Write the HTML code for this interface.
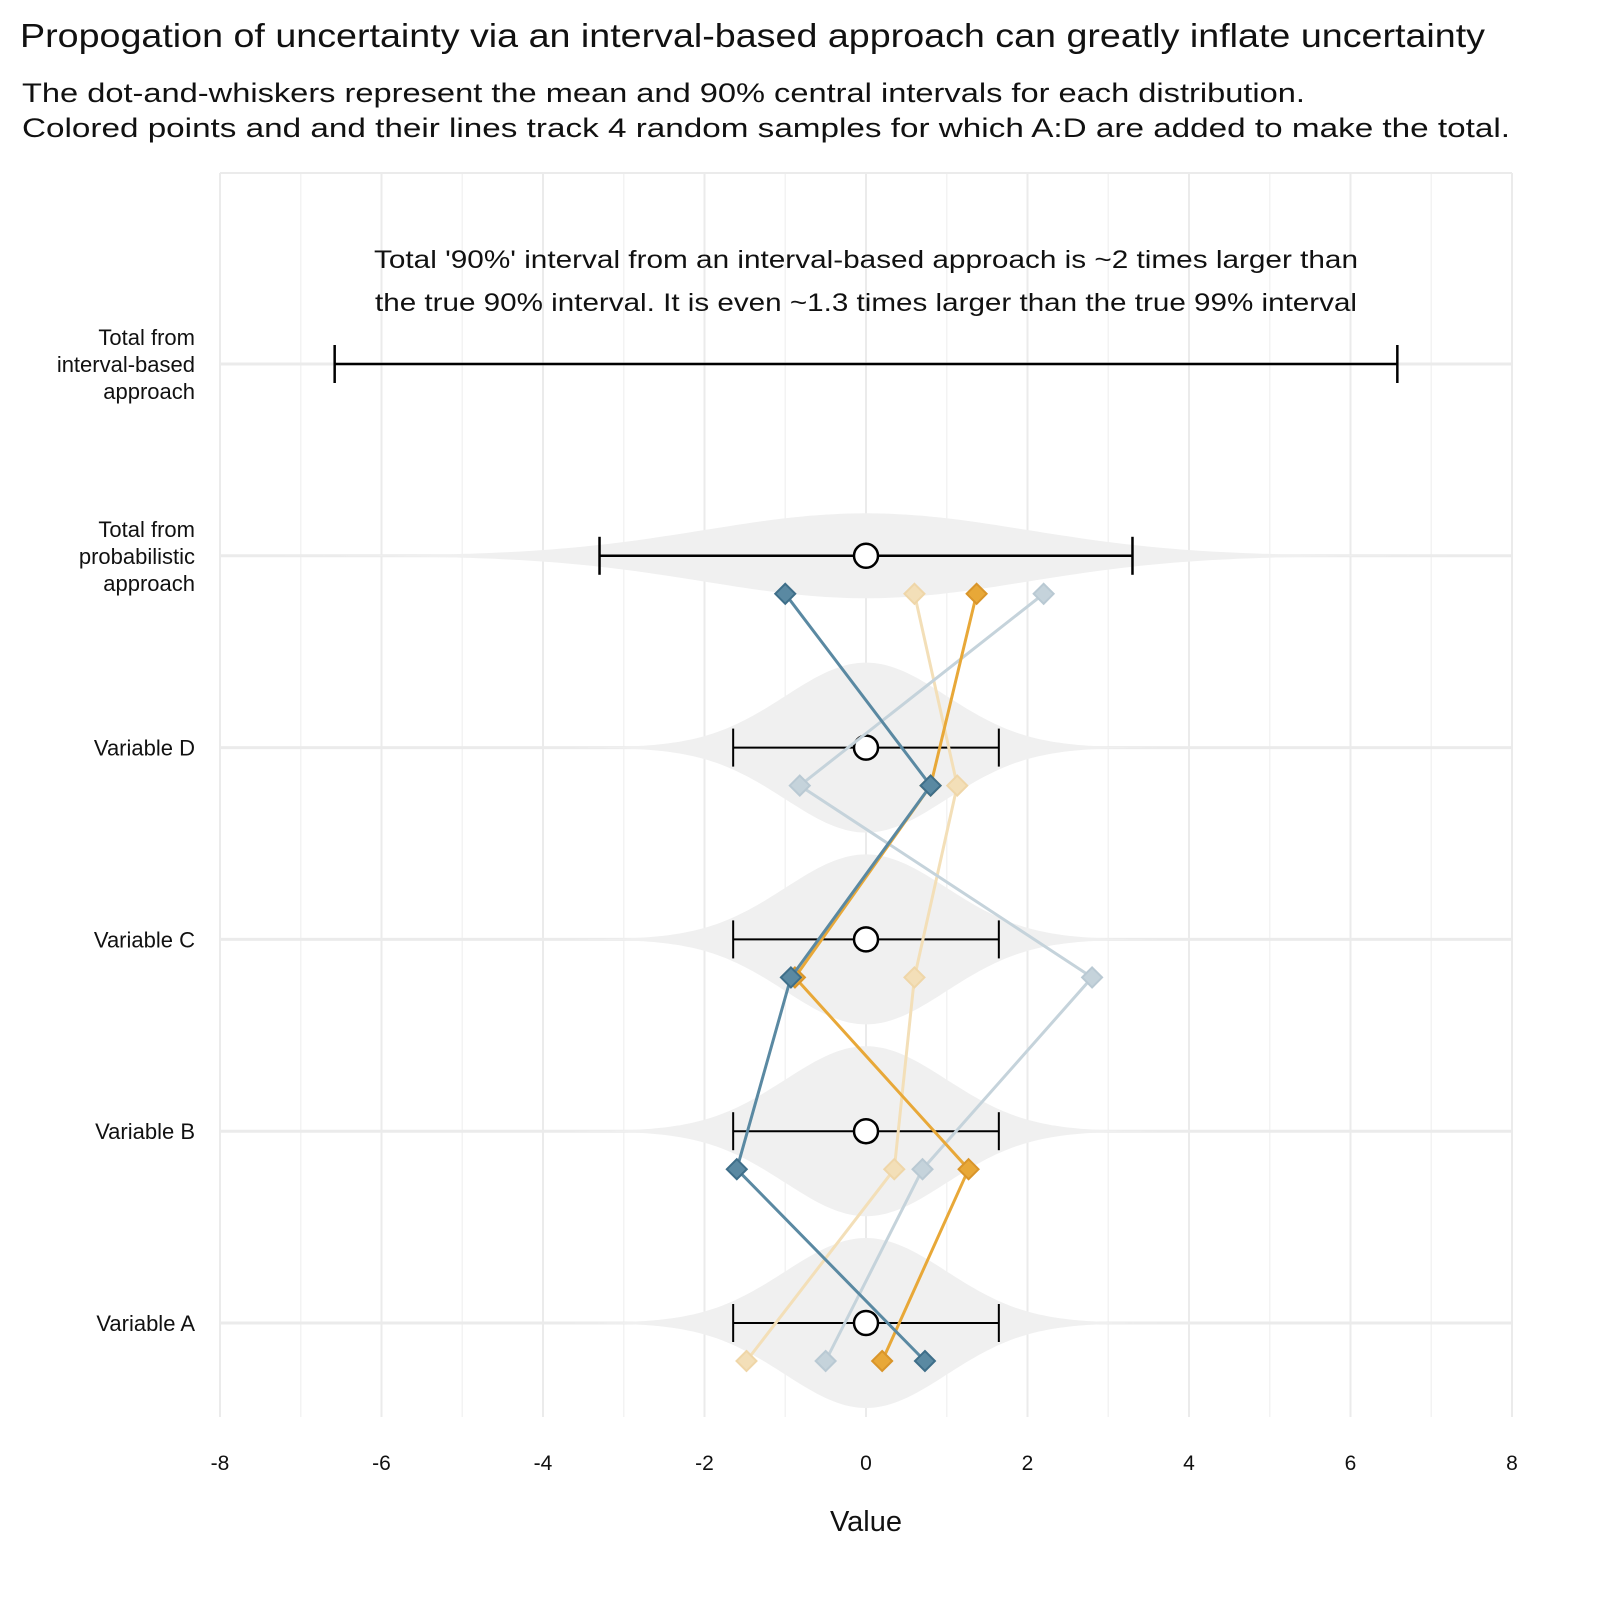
<!DOCTYPE html>
<html><head><meta charset="utf-8"><style>
body{margin:0;background:#fff}
svg text{font-family:"Liberation Sans",sans-serif}
</style></head><body>
<svg id="chart" width="1600" height="1600" viewBox="0 0 1600 1600">
<text x="20" y="47" font-size="33" fill="#111" textLength="1465" lengthAdjust="spacingAndGlyphs">Propogation of uncertainty via an interval-based approach can greatly inflate uncertainty</text>
<text x="22" y="102" font-size="27" fill="#111" textLength="1283" lengthAdjust="spacingAndGlyphs">The dot-and-whiskers represent the mean and 90% central intervals for each distribution.</text>
<text x="22" y="137" font-size="27" fill="#111" textLength="1488" lengthAdjust="spacingAndGlyphs">Colored points and and their lines track 4 random samples for which A:D are added to make the total.</text>
<g id="grid"></g>
<g id="violins"></g>
<g id="intervals"></g>
<g id="samples"></g>
<g id="axes"></g>
<text x="374" y="268" font-size="25" fill="#111" textLength="984" lengthAdjust="spacingAndGlyphs">Total '90%' interval from an interval-based approach is ~2 times larger than</text>
<text x="375" y="311" font-size="25" fill="#111" textLength="982" lengthAdjust="spacingAndGlyphs">the true 90% interval. It is even ~1.3 times larger than the true 99% interval</text>
<text x="866" y="1531" font-size="29" text-anchor="middle" fill="#111">Value</text>
</svg>
<script>
const categories=[["Variable A"],["Variable B"],["Variable C"],["Variable D"],["Total from","probabilistic","approach"],["Total from","interval-based","approach"]];
const means=[0,0,0,0,0,0];
const lows=[-1.645,-1.645,-1.645,-1.645,-3.3,-6.58];
const highs=[1.645,1.645,1.645,1.645,3.3,6.58];
const sds=[1,1,1,1,2,null];
const xTicks=[-8,-6,-4,-2,0,2,4,6,8];
const seriesDarkBlue=[0.73,-1.6,-0.93,0.8,-1.0];
const seriesOrange=[0.2,1.27,-0.88,0.8,1.37];
const seriesLightBlue=[-0.5,0.7,2.8,-0.82,2.2];
const seriesLightOrange=[-1.48,0.35,0.6,1.13,0.6];

const NS="http://www.w3.org/2000/svg";
const X0=220,X1=1512,XMIN=-8,XMAX=8;
const x=v=>X0+(v-XMIN)/(XMAX-XMIN)*(X1-X0);
const y=i=>1323-i*191.8;
function mk(parent,tag,attrs){const e=document.createElementNS(NS,tag);for(const k in attrs)e.setAttribute(k,attrs[k]);document.getElementById(parent).appendChild(e);return e;}
for(let v=XMIN;v<=XMAX;v++){
  const e=mk('grid','line',{x1:x(v),x2:x(v),y1:173,y2:1417,stroke:v%2===0?'#ebebeb':'#f3f3f3','stroke-width':v%2===0?2:1.5});
  
  
}
mk('grid','line',{x1:X0,x2:X1,y1:173,y2:173,stroke:'#ebebeb','stroke-width':2});
categories.forEach((c,i)=>{
  const e=mk('grid','line',{x1:X0,x2:X1,y1:y(i),y2:y(i),stroke:'#ebebeb','stroke-width':3});
  
  
});
sds.forEach((sd,i)=>{
  if(sd==null)return;
  const top=[],bot=[];
  for(let v=-3.6*sd;v<=3.6*sd+1e-9;v+=sd*0.05){
    const d=Math.exp(-0.5*(v/sd)**2)/(sd*Math.sqrt(2*Math.PI));
    const h=d*213;
    top.push(x(means[i]+v).toFixed(1)+','+(y(i)-h).toFixed(1));
    bot.unshift(x(means[i]+v).toFixed(1)+','+(y(i)+h).toFixed(1));
  }
  const e=mk('violins','polygon',{points:top.concat(bot).join(' '),fill:'#f0f0f0'});
  
  
});
categories.forEach((c,i)=>{
  const w=i>=4?2.5:2;
  const g=mk('intervals','g',{});
  
  
  [[x(lows[i]),y(i),x(highs[i]),y(i)],[x(lows[i]),y(i)-19,x(lows[i]),y(i)+19],[x(highs[i]),y(i)-19,x(highs[i]),y(i)+19]].forEach(l=>{
    const e=document.createElementNS(NS,'line');
    e.setAttribute('x1',l[0]);e.setAttribute('y1',l[1]);e.setAttribute('x2',l[2]);e.setAttribute('y2',l[3]);
    e.setAttribute('stroke','#000');e.setAttribute('stroke-width',w);g.appendChild(e);
  });
  if(i<5){
    const m=mk('intervals','circle',{cx:x(means[i]),cy:y(i),r:12,fill:'#fff',stroke:'#000','stroke-width':2.5});
    
    
  }
});
const series=[[seriesLightOrange,'#f3dfb8','#efd6a8'],[seriesLightBlue,'#c5d3db','#b9c9d3'],[seriesOrange,'#e8a838','#d9952a'],[seriesDarkBlue,'#5a89a2','#3e6e89']];
series.forEach((s,k)=>{
  const pts=s[0].map((v,i)=>x(v)+','+(y(i)+38));
  const l=mk('samples','polyline',{points:pts.join(' '),fill:'none',stroke:s[1],'stroke-width':3});
  
  
  s[0].forEach((v,i)=>{
    const cx=x(v),cy=y(i)+38,r=10;
    const d=mk('samples','polygon',{points:`${cx},${cy-r} ${cx+r},${cy} ${cx},${cy+r} ${cx-r},${cy}`,fill:s[1],stroke:s[2],'stroke-width':2});
    
    
  });
});
xTicks.forEach(v=>{
  const t=mk('axes','text',{x:x(v),y:1470,'font-size':21,'text-anchor':'middle',fill:'#111'});
  t.textContent=String(v);
  
  
});
categories.forEach((c,i)=>{
  const n=c.length,yc=y(i);
  c.forEach((line,j)=>{
    const t=mk('axes','text',{x:195,y:yc+8+(j-(n-1)/2)*27,'font-size':22,'text-anchor':'end',fill:'#111'});
    t.textContent=line;
    
    
  });
});
</script>
</body></html>
